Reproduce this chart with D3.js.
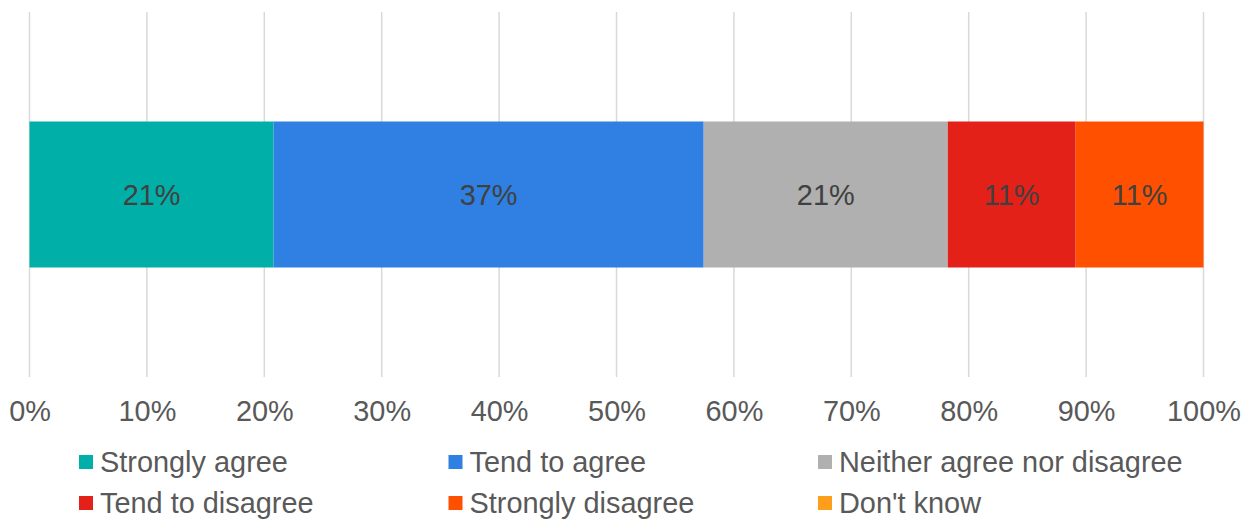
<!DOCTYPE html>
<html>
<head>
<meta charset="utf-8">
<script src="https://cdn.jsdelivr.net/npm/d3@7/dist/d3.min.js"></script>
<style>
  html, body { margin: 0; padding: 0; background: #ffffff; }
  svg { display: block; font-family: "Liberation Sans", Arial, sans-serif; }
</style>
</head>
<body>
<svg id="chart" width="1251" height="520"></svg>
<script>
// Survey responses (percent of respondents), one stacked row
const categories = ["All respondents"];
const responses = ["Strongly agree", "Tend to agree", "Neither agree nor disagree",
                   "Tend to disagree", "Strongly disagree", "Don't know"];
const shares = [21, 37, 21, 11, 11, 0];
const colors = ["#00B0A8", "#2F80E2", "#AFB0AF", "#E32119", "#FF5000", "#FF9E1B"];
const tickValues = [0, 0.1, 0.2, 0.3, 0.4, 0.5, 0.6, 0.7, 0.8, 0.9, 1.0];

const svg = d3.select("#chart");
const FONT = "28.9px";

const plot = { left: 29.5, right: 1203.5, top: 12, bottom: 377 };

const x = d3.scaleLinear().domain([0, 1]).range([plot.left, plot.right]);
const y = d3.scaleBand().domain(categories).range([plot.top, plot.bottom])
  .paddingInner(0).paddingOuter(0.75);

// Table for the stack: one row per category, one column per response
const rows = categories.map(c => {
  const r = { category: c };
  responses.forEach((k, i) => { r[k] = shares[i]; });
  return r;
});
const stacked = d3.stack().keys(responses).offset(d3.stackOffsetExpand)(rows);
const color = d3.scaleOrdinal().domain(responses).range(colors);

// Vertical gridlines
svg.append("g")
  .selectAll("line")
  .data(tickValues)
  .join("line")
  .attr("x1", d => x(d)).attr("x2", d => x(d))
  .attr("y1", plot.top).attr("y2", plot.bottom)
  .attr("stroke", "#D9D9D9")
  .attr("stroke-width", 1.5);

// Stacked segments
const layer = svg.append("g")
  .selectAll("g")
  .data(stacked)
  .join("g")
  .attr("fill", d => color(d.key));

layer.selectAll("rect")
  .data(d => d.map(p => ({ key: d.key, p })))
  .join("rect")
  .attr("x", d => x(d.p[0]))
  .attr("width", d => Math.max(0, x(d.p[1]) - x(d.p[0])))
  .attr("y", d => y(d.p.data.category))
  .attr("height", y.bandwidth());

// Value labels inside segments
layer.selectAll("text")
  .data(d => d.map(p => ({ key: d.key, p })).filter(d => d.p.data[d.key] > 0))
  .join("text")
  .attr("x", d => (x(d.p[0]) + x(d.p[1])) / 2)
  .attr("y", d => y(d.p.data.category) + y.bandwidth() / 2)
  .attr("dy", "0.35em")
  .attr("text-anchor", "middle")
  .attr("fill", "#404040")
  .attr("font-size", FONT)
  .text(d => d.p.data[d.key] + "%");

// Bottom axis labels
const axis = d3.axisBottom(x)
  .tickValues(tickValues)
  .tickFormat(d3.format(".0%"))
  .tickSize(0)
  .tickPadding(0);

const ax = svg.append("g")
  .attr("transform", `translate(0, 400)`)
  .call(axis);
ax.select(".domain").remove();
ax.selectAll("text")
  .attr("font-family", "Liberation Sans, Arial, sans-serif")
  .attr("font-size", FONT)
  .attr("fill", "#595959")
  .attr("dy", "0.71em");

// Legend: three columns, two rows
const legend = svg.append("g");
const colX = [79, 448.5, 818];
const rowY = [462, 503];
const item = legend.selectAll("g")
  .data(responses)
  .join("g")
  .attr("transform", (d, i) => `translate(${colX[i % 3]}, ${rowY[Math.floor(i / 3)]})`);

item.append("rect")
  .attr("x", 0).attr("y", -7)
  .attr("width", 14).attr("height", 14)
  .attr("fill", d => color(d));

item.append("text")
  .attr("x", 21)
  .attr("y", 0)
  .attr("dy", "0.35em")
  .attr("font-size", FONT)
  .attr("fill", "#595959")
  .text(d => d);
</script>
</body>
</html>
